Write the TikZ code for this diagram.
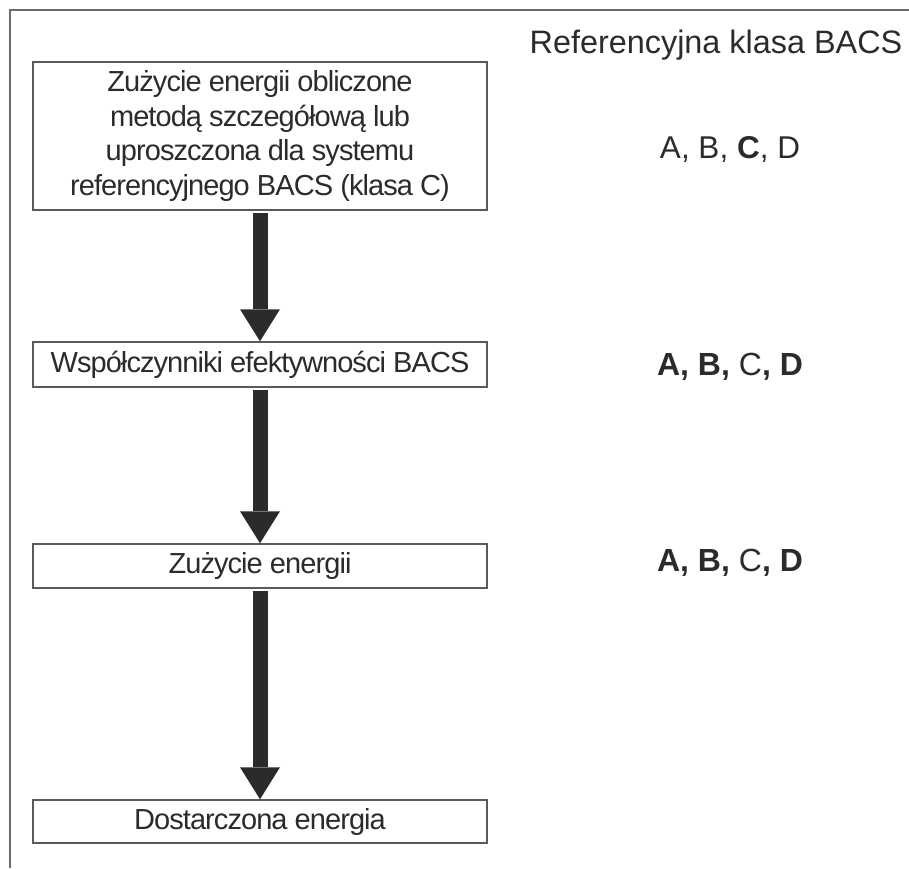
\documentclass[tikz,border=0pt]{standalone}
\usepackage{fontspec}
\setmainfont{Liberation Sans}
\usetikzlibrary{positioning,arrows.meta}
\definecolor{framegray}{HTML}{6A6A6A}
\definecolor{boxgray}{HTML}{5A5A5A}
\definecolor{ink}{HTML}{2B2B2B}

\begin{document}
\begin{tikzpicture}[x=1pt,y=-1pt,
  box/.style={draw=boxgray,line width=1.5pt,align=center,text=ink,
              font=\fontsize{29}{34.5}\selectfont\addfontfeature{LetterSpace=-3.2},
              minimum width=454pt,inner sep=0pt},
  klasa/.style={text=ink,font=\fontsize{31.5}{36}\selectfont,inner sep=0pt},
  flow/.style={draw=ink,line width=15pt,shorten <=2pt,
               -{Triangle[width=40pt,length=32pt,line width=0pt]}}]
  \useasboundingbox (0,0) rectangle (909,868);
  %  -- - frame  -- -
  \draw[framegray,line width=2pt] (10,868) |- (909,10);
  %  -- - boxes  -- -
  \node[box,minimum height=148pt] (b1) at (260,136)
    {Zużycie energii obliczone\\metodą szczegółową lub\\uproszczona dla systemu\\referencyjnego BACS (klasa C)};
  \node[box,minimum height=45pt] (b2) at (260,364.5) {Współczynniki efektywności BACS};
  \node[box,minimum height=44pt] (b3) at (260,566) {Zużycie energii};
  \node[box,minimum height=43pt] (b4) at (260,821.5) {Dostarczona energia};
  \draw[flow] (b1.south) -- (b2.north);
  \draw[flow] (b2.south) -- (b3.north);
  \draw[flow] (b3.south) -- (b4.north);
  %  -- - BACS classes  -- -
  \node[klasa,font=\fontsize{32.4}{36}\selectfont] (head) at (716,45) {Referencyjna klasa BACS};
  \node[klasa] (k1) at (730,150) {A, B, \textbf{C}, D};
  \node[klasa,font=\fontsize{32}{36}\selectfont] (k2) at (730,367) {\textbf{A, B,} C\textbf{, D}};
  \node[klasa,font=\fontsize{32}{36}\selectfont] (k3) at (730,563) {\textbf{A, B,} C\textbf{, D}};
\end{tikzpicture}
\end{document}
